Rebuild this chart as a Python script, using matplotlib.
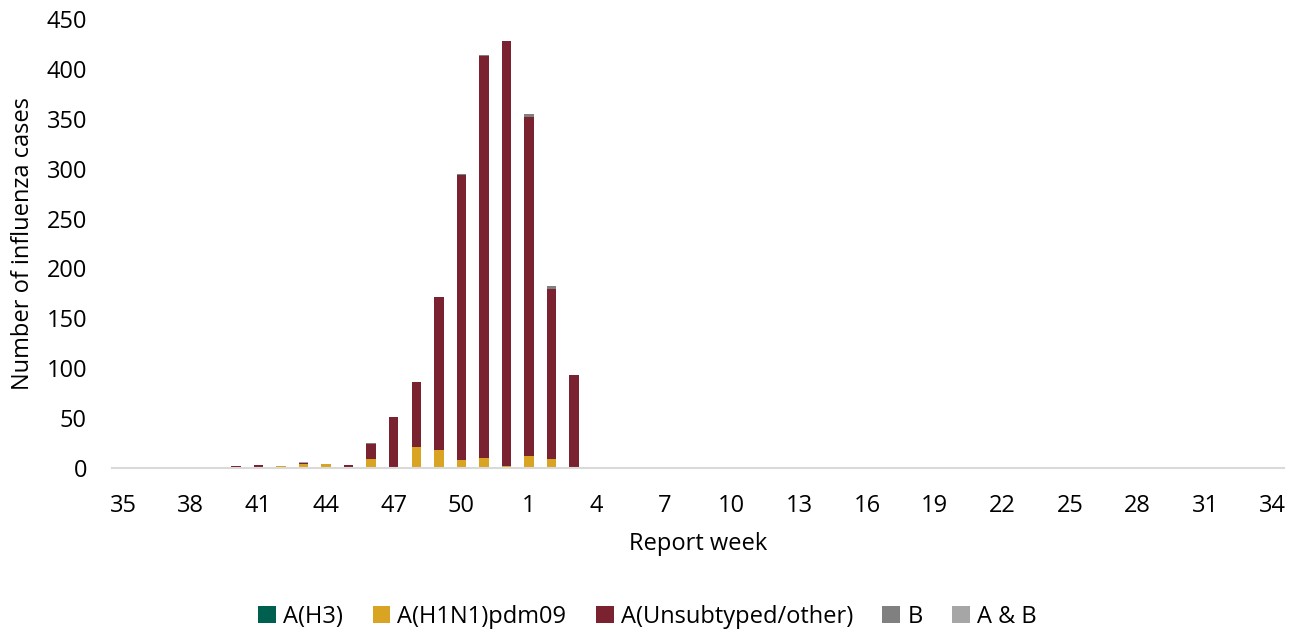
import matplotlib.pyplot as plt
import numpy as np

plt.rcParams['font.family'] = ['Open Sans', 'DejaVu Sans']

weeks = [35, 36, 37, 38, 39, 40, 41, 42, 43, 44, 45, 46, 47, 48, 49, 50, 51, 52,
         1, 2, 3, 4, 5, 6, 7, 8, 9, 10, 11, 12, 13, 14, 15, 16, 17, 18, 19, 20,
         21, 22, 23, 24, 25, 26, 27, 28, 29, 30, 31, 32, 33, 34]

a_h3 = [0, 0, 0, 0, 0, 0, 0, 0, 0, 0, 0, 0, 0, 0, 0, 0, 0, 0,
        0, 0, 0, 0, 0, 0, 0, 0, 0, 0, 0, 0, 0, 0, 0, 0, 0, 0, 0, 0,
        0, 0, 0, 0, 0, 0, 0, 0, 0, 0, 0, 0, 0, 0]
a_h1n1 = [0, 0, 0, 0, 0, 0, 1, 2, 4, 4, 1, 9, 1, 21, 18, 8, 10, 2,
          12, 9, 0, 0, 0, 0, 0, 0, 0, 0, 0, 0, 0, 0, 0, 0, 0, 0, 0, 0,
          0, 0, 0, 0, 0, 0, 0, 0, 0, 0, 0, 0, 0, 0]
a_unsub = [0, 0, 1, 0, 0, 2, 2, 0, 1, 0, 2, 15, 50, 65, 153, 286, 403, 426,
           340, 170, 93, 0, 0, 0, 0, 0, 0, 0, 0, 0, 0, 0, 0, 0, 0, 0, 0, 0,
           0, 0, 0, 0, 0, 0, 0, 0, 0, 0, 0, 0, 0, 0]
b = [0, 0, 0, 0, 1, 0, 0, 0, 0, 0, 0, 1, 0, 0, 0, 1, 1, 0,
     3, 3, 0, 0, 0, 0, 0, 0, 0, 0, 0, 0, 0, 0, 0, 0, 0, 0, 0, 0,
     0, 0, 0, 0, 0, 0, 0, 0, 0, 0, 0, 0, 0, 0]
a_and_b = [0, 0, 0, 0, 0, 0, 0, 0, 1, 0, 0, 0, 0, 0, 0, 0, 0, 0,
           0, 0, 0, 0, 0, 0, 0, 0, 0, 0, 0, 0, 0, 0, 0, 0, 0, 0, 0, 0,
           0, 0, 0, 0, 0, 0, 0, 0, 0, 0, 0, 0, 0, 0]

series = [
    ("A(H3)", a_h3, "#00604F"),
    ("A(H1N1)pdm09", a_h1n1, "#D9A423"),
    ("A(Unsubtyped/other)", a_unsub, "#7A2230"),
    ("B", b, "#808080"),
    ("A & B", a_and_b, "#A6A6A6"),
]

fig = plt.figure(figsize=(13.08, 6.34), dpi=100)
ax = fig.add_axes([0.0856, 0.2618, 0.8961, 0.7082])

x = np.arange(len(weeks))
bottom = np.zeros(len(weeks))
for name, vals, col in series:
    vals = np.array(vals, dtype=float)
    ax.bar(x, vals, width=0.42, bottom=bottom, color=col, label=name)
    bottom += vals

ax.set_xlim(-0.5, len(weeks) - 0.5)
ax.set_ylim(0, 450)
ax.set_yticks(range(0, 451, 50))
ax.set_xticks(x[::3])
ax.set_xticklabels([str(w) for w in weeks[::3]])
ax.tick_params(axis='both', length=0, labelsize=17, colors='#000000')
ax.tick_params(axis='x', pad=19)
ax.tick_params(axis='y', pad=18)

for s in ['top', 'right', 'left']:
    ax.spines[s].set_visible(False)
ax.spines['bottom'].set_color('#D9D9D9')
ax.spines['bottom'].set_linewidth(1.5)

ax.set_xlabel("Report week", fontsize=17, labelpad=10)
ax.set_ylabel("Number of influenza cases", fontsize=17, labelpad=8)

fig.legend(loc='center', bbox_to_anchor=(0.495, 0.027), ncol=5, frameon=False,
           fontsize=17, handlelength=0.75, handleheight=0.75, handletextpad=0.3,
           columnspacing=1.25)

fig.savefig("out.png", dpi=100)
